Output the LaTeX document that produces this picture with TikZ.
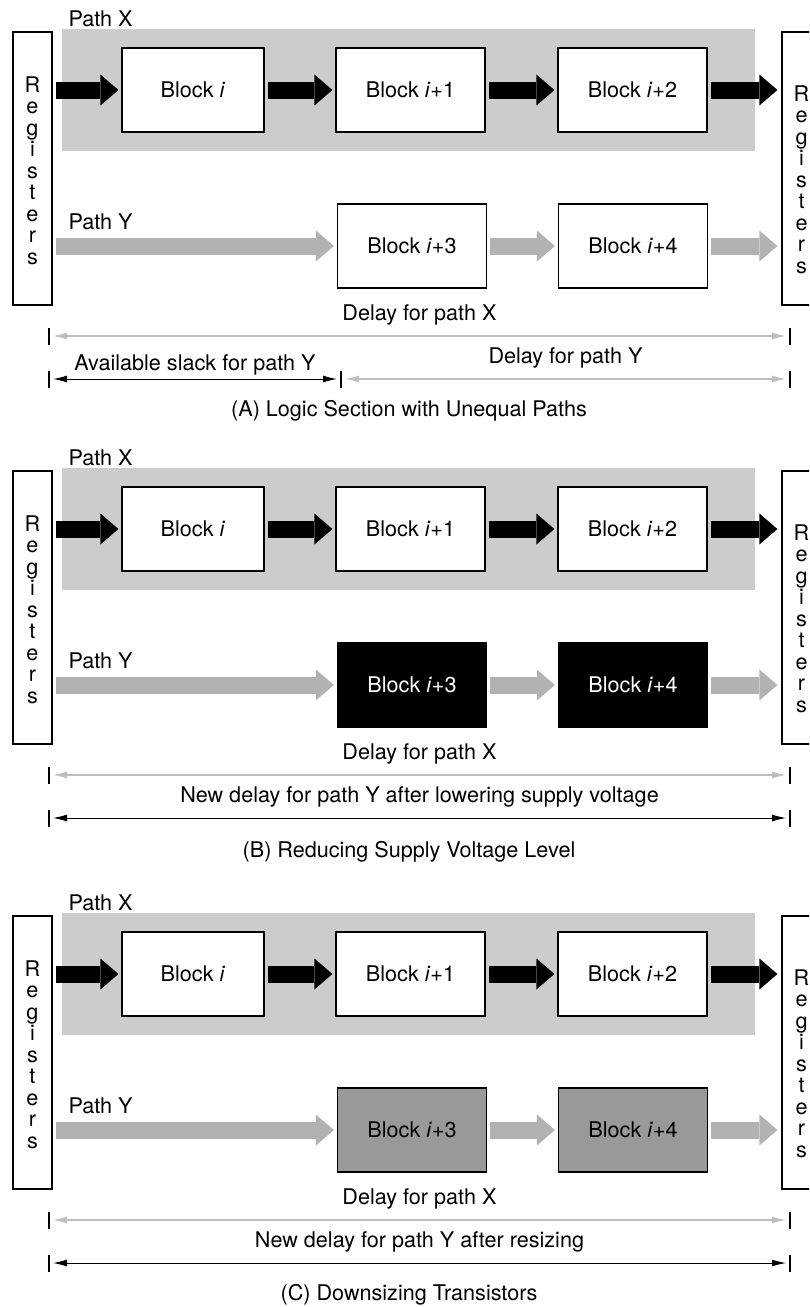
\documentclass[tikz,border=0pt]{standalone}
\usepackage{fontspec}
\setmainfont{TeX Gyre Heros}
\usetikzlibrary{positioning,arrows.meta}
\definecolor{pathgray}{RGB}{204,204,204}
\definecolor{flowgray}{RGB}{178,178,178}
\definecolor{dimgray}{RGB}{190,190,190}
\definecolor{sizedgray}{RGB}{153,153,153}
% one logic section: #1 name prefix, #2 style of blocks i+3 and i+4
\newcommand{\logicrows}[2]{%
  \fill[pathgray] (62,29) rectangle (755,151);
  \node[reg] (#1regL) at (32.5,168.5) {};
  \node[reg] (#1regR) at (801.5,168.5) {};
  \foreach \l [count=\k] in {R,e,g,i,s,t,e,r,s} {
    \node[regletter] (#1regL\k) at (32.5,{70.6+21.5*\k}) {\l};
    \node[regletter] (#1regR\k) at (801.5,{79.6+21.5*\k}) {\l};
  }
  \node[anchor=base west] (#1pathX) at (65,26) {Path X};
  \node[anchor=base west] (#1pathY) at (65,229) {Path Y};
  \node[blk, minimum width=142pt] (#1blk0) at (193,90) {Block \textit{i}};
  \node[blk] (#1blk1) at (410.5,90) {Block \textit{i}+1};
  \node[blk] (#1blk2) at (632.5,90) {Block \textit{i}+2};
  \node[#2] (#1blk3) at (412,246) {Block \textit{i}+3};
  \node[#2] (#1blk4) at (633,246) {Block \textit{i}+4};
  \draw[flowx] (#1regL.east |- #1blk0.west) -- (#1blk0.west);
  \draw[flowx] (#1blk0.east) -- (#1blk1.west);
  \draw[flowx] (#1blk1.east) -- (#1blk2.west);
  \draw[flowx, shorten >=4pt] (#1blk2.east) -- (#1regR.west |- #1blk2.east);
  \draw[flowy] (#1regL.east |- #1blk3.west) -- (#1blk3.west);
  \draw[flowy] (#1blk3.east) -- (#1blk4.west);
  \draw[flowy, shorten >=4pt] (#1blk4.east) -- (#1regR.west |- #1blk4.east);
}

\begin{document}
\begin{tikzpicture}[
  x=1pt, y=-1pt,
  every node/.style={font=\fontsize{21.6}{25}\selectfont},
  blk/.style={draw, line width=1.2pt, fill=white, minimum width=149pt, minimum height=84pt, inner sep=0pt},
  slowblk/.style={blk, fill=black, text=white},
  sizedblk/.style={blk, fill=sizedgray},
  reg/.style={draw, line width=1.2pt, minimum width=39pt, minimum height=273pt, inner sep=0pt},
  regletter/.style={anchor=base, inner sep=0pt},
  flowx/.style={line width=17pt, -{Triangle[length=18pt 0 0,width=31pt 0 0,line width=0pt 0 0]}, shorten <=3pt, shorten >=3pt},
  flowy/.style={flowx, color=flowgray},
  dimx/.style={draw=dimgray, line width=1.2pt, {Latex[length=14pt,width=7pt]}-{Latex[length=14pt,width=7pt]}, shorten <=4pt, shorten >=4pt},
  dimy/.style={dimx, draw=black, line width=1pt},
  tick/.style={line width=1.1pt}
]
\useasboundingbox (0,0) rectangle (809,1307);
\clip (0,0) rectangle (809,1307);

% (A)
\begin{scope}
  \logicrows{a}{blk}
  \coordinate (aX0) at (49,336); \coordinate (aX1) at (790,336);
  \coordinate (aY0) at (49,379); \coordinate (aYm) at (341,379); \coordinate (aY1) at (790,379);
  \foreach \c in {aX0,aX1,aY0,aYm,aY1} \draw[tick] (\c) ++(0,-8.5) -- ++(0,17);
  \draw[dimx] (aX0) -- node[above=7pt] (adelX) {Delay for path X} (aX1);
  \draw[dimy] (aY0) -- node[above=0pt] (aslack) {Available slack for path Y} (aYm);
  \draw[dimx] (aYm) -- node[above=7pt] (adelY) {Delay for path Y} (aY1);
  \node (acap) at (409,411) {(A) Logic Section with Unequal Paths};
\end{scope}

% (B)
\begin{scope}[shift={(0,439)}]
  \logicrows{b}{slowblk}
  \coordinate (bX0) at (49,336); \coordinate (bX1) at (790,336);
  \coordinate (bY0) at (49,379); \coordinate (bY1) at (790,379);
  \foreach \c in {bX0,bX1,bY0,bY1} \draw[tick] (\c) ++(0,-8.5) -- ++(0,17);
  \draw[dimx] (bX0) -- node[above=7pt] (bdelX) {Delay for path X} (bX1);
  \draw[dimy] (bY0) -- node[above=7pt] (bdelY) {New delay for path Y after lowering supply voltage} (bY1);
  \node (bcap) at (409,413) {(B) Reducing Supply Voltage Level};
\end{scope}

% (C)
\begin{scope}[shift={(0,884)}]
  \logicrows{c}{sizedblk}
  \coordinate (cX0) at (49,336); \coordinate (cX1) at (790,336);
  \coordinate (cY0) at (49,379); \coordinate (cY1) at (790,379);
  \foreach \c in {cX0,cX1,cY0,cY1} \draw[tick] (\c) ++(0,-8.5) -- ++(0,17);
  \draw[dimx] (cX0) -- node[above=7pt] (cdelX) {Delay for path X} (cX1);
  \draw[dimy] (cY0) -- node[above=7pt] (cdelY) {New delay for path Y after resizing} (cY1);
  \node (ccap) at (409,411) {(C) Downsizing Transistors};
\end{scope}

\end{tikzpicture}
\end{document}
